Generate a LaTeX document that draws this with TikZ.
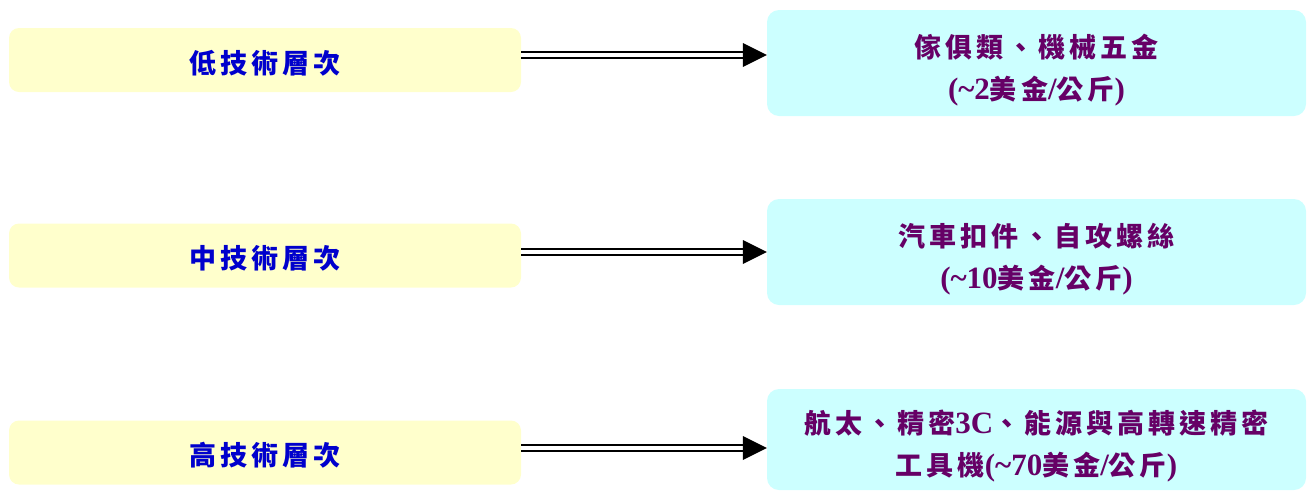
\documentclass[tikz,border=0pt]{standalone}
\usepackage{fontspec}
\setmainfont{Liberation Serif}
\newfontfamily\cjk{Noto Sans CJK TC}[LetterSpace=15]
\newcommand\lat[1]{{\rmfamily\bfseries\fontsize{31}{40}\selectfont #1}}
\newcommand\twolines[2]{\raisebox{-7pt}[\height][\depth]{\renewcommand\arraystretch{1.05}\begin{tabular}{@{}c@{}}#1\\#2\end{tabular}}}
\newcommand\oneline[1]{\raisebox{-3pt}[\height][\depth]{#1}}
\definecolor{lowfill}{HTML}{FFFFCC}
\definecolor{highfill}{HTML}{CCFFFF}
\definecolor{lefttext}{HTML}{0000CC}
\definecolor{righttext}{HTML}{660066}
\tikzset{
  levelbox/.style={fill=lowfill, rounded corners=10pt, minimum width=512pt, minimum height=64pt, inner sep=0pt, text=lefttext, font=\fontsize{27}{40}\selectfont\cjk\bfseries},
  valuebox/.style={fill=highfill, rounded corners=12pt, minimum width=539pt, inner sep=0pt, text=righttext, font=\fontsize{27}{40}\selectfont\cjk\bfseries},
  dbl/.style={draw=black, line width=2pt, double=white, double distance=4pt},
  headfill/.style={fill=black}
}
\begin{document}
\begin{tikzpicture}[x=1pt,y=-1pt]
\useasboundingbox (0,0) rectangle (1307,491);
\node[levelbox] (l1) at (265,60) {\oneline{低技術層次}};
\node[levelbox] (l2) at (265,255.5) {\oneline{中技術層次}};
\node[levelbox] (l3) at (265,452.5) {\oneline{高技術層次}};
\node[valuebox, minimum height=106pt] (r1) at (1036.5,63) {\twolines{傢俱類、機械五金}{\lat{(\textasciitilde2}美金\lat{/}公斤\lat{)}}};
\node[valuebox, minimum height=106pt] (r2) at (1036.5,252) {\twolines{汽車扣件、自攻螺絲}{\lat{(\textasciitilde10}美金\lat{/}公斤\lat{)}}};
\node[valuebox, minimum height=101pt] (r3) at (1036.5,439.5) {\twolines{航太、精密\lat{3C}、能源與高轉速精密}{工具機\lat{(\textasciitilde70}美金\lat{/}公斤\lat{)}}};
\foreach \i/\y in {1/55,2/252,3/448}{
  \coordinate (s\i) at (l\i.east |- 0,\y);
  \coordinate (e\i) at (r\i.west |- 0,\y);
  \draw[dbl] (s\i) -- ([xshift=-23pt]e\i);
  \fill[headfill] (e\i) -- ++(-24,12) -- ++(0,-24) -- cycle;
}
\end{tikzpicture}
\end{document}
